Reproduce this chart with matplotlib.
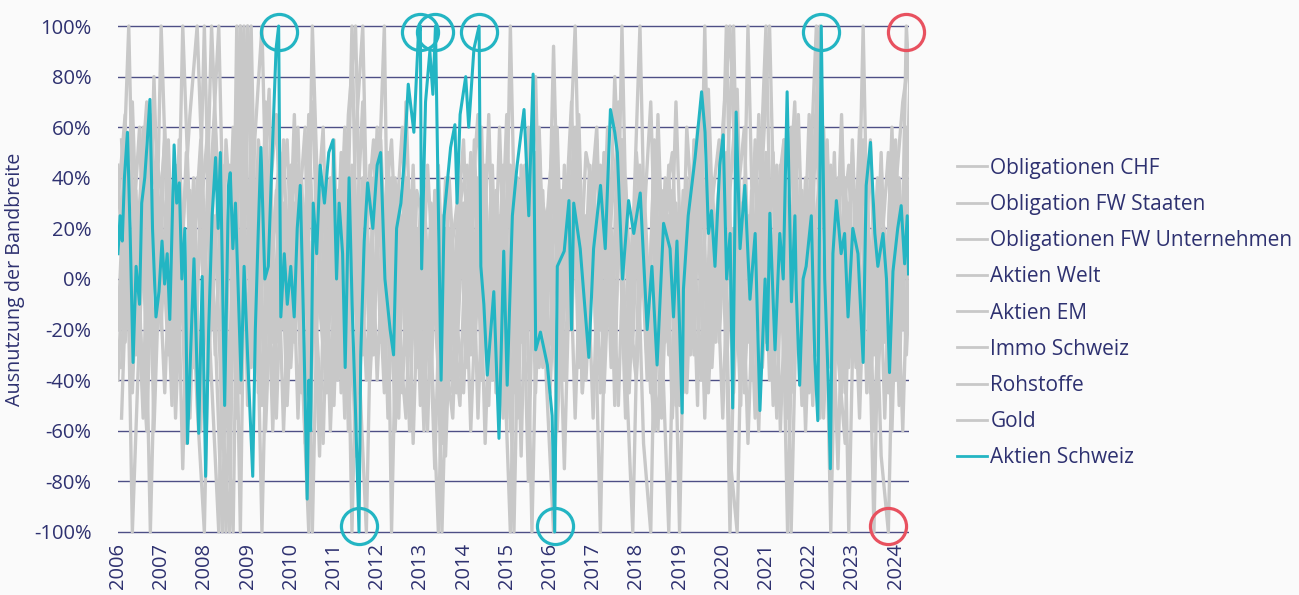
import numpy as np
import matplotlib
matplotlib.use("Agg")
import matplotlib.pyplot as plt
from matplotlib.lines import Line2D

# ---------------- data ----------------
grey_names = ["Obligationen CHF", "Obligation FW Staaten", "Obligationen FW Unternehmen",
              "Aktien Welt", "Aktien EM", "Immo Schweiz", "Rohstoffe", "Gold"]
teal_name = "Aktien Schweiz"

# bimonthly sampling grids (grid A for first four series, grid B offset by one month)
dates_a = 2006.0 + np.arange(111) / 6.0
dates_b = 2006.0 + 1 / 12 + np.arange(111) / 6.0

obligationen_chf = [
    30, 65, -100, -20, 45, -35, 100, 10, -40, 25, -55, 40, -10, 100, 30, -45, -100, 100,
    -30, 55, 100, -20, 35, -60, 20, 60, -45, 15, -70, 40, -25, 50, -60, 10, 70, -40,
    20, 100, -100, 35, -30, 45, -50, 10, -75, 25, -40, 15, 55, -30, 40, -65, 20, -10,
    65, -45, 30, -80, 50, -20, 40, -60, 15, 70, -35, 25, -55, 45, -15, 80, 10, -45,
    30, -65, -100, 50, -20, 35, -50, 60, 15, -40, 75, -10, 45, -70, -100, 40, -30, 65,
    -25, 50, -60, 20, 70, -35, 30, 100, -55, 15, -75, 40, -20, 60, -45, 25, -70, -100,
    35, 70, 90]
obligation_fw_staaten = [
    -40, 25, 70, -15, -60, 35, -20, 55, -35, 100, 20, -50, -100, 45, 100, -25, 60, -100,
    100, -40, 20, 75, -55, 30, -15, 45, -65, 100, 10, -30, 55, -45, 25, -70, 40, -15,
    60, -35, 30, -55, 70, -20, 15, -60, 35, -100, 10, -45, -20, 50, -55, 30, -35, 60,
    -30, 40, -70, 55, -15, 35, -45, 20, -75, 35, 55, -30, 45, -20, 60, -50, 100, -35,
    50, 10, -45, 65, -25, 30, -100, 40, -30, 70, -45, 20, -55, 35, 75, -40, 15, -60,
    50, -20, 40, -100, 30, -50, -15, 65, -40, 45, -30, -65, 55, -25, 35, -60, 10, 50,
    -40, 30, 60]
obligationen_fw_unternehmen = [
    45, -25, 15, 60, -35, 80, -15, 40, -55, 20, 65, 100, 20, -40, -100, 55, 10, 100,
    -50, 35, -100, 30, 65, -20, 45, -55, 25, 70, -10, -45, 35, -20, 65, 100, -30, 45,
    -40, 25, 55, -15, 40, -65, 30, -30, 20, -55, 40, -15, -45, 25, 65, -20, 45, -50,
    20, -100, 45, -20, 80, -35, -25, 60, -40, 30, -10, 50, 35, -45, 25, -30, 55, -15,
    -40, 20, 70, -30, 40, -55, 25, -35, 55, -10, 45, -25, 60, 100, 20, -45, 35, -20,
    40, -50, 25, -35, 55, -20, 65, -30, 45, -100, 30, -45, 20, -55, 40, -30, 50, -45,
    25, -60, 40]
aktien_welt = [
    -20, 50, -45, 30, 70, -60, 25, -30, 45, -75, 35, -15, 100, -20, 40, -100, 25, -45,
    100, 30, -50, 45, -25, 55, -35, 20, 60, -100, 35, -20, -50, 40, -25, 55, 100, -35,
    15, -45, 40, -20, -55, 30, -25, 45, -10, -65, 20, -35, 30, -60, 15, 45, -40, 25,
    -55, 35, -25, 60, -45, 30, 15, -50, 45, -20, 65, -40, 20, -100, 35, -25, 55, -15,
    -35, 40, -20, -60, 30, 50, -20, -45, 35, 50, -30, 20, 55, -100, 30, 60, -40, 25,
    100, -30, 45, -55, 20, 35, -45, 25, 60, -35, 40, -20, 50, -40, 30, -100, 45, -30,
    55, -20, 80]
aktien_em = [
    20, 100, -30, 40, -100, 15, 55, -40, 30, -65, 20, 45, -30, 60, -15, 35, -55, 80,
    -20, 45, -60, 15, 50, -35, 30, -45, 65, -25, 40, -60, 15, -30, 100, -45, 20, 55,
    -25, 40, -60, 20, 35, -15, -45, 30, -20, -70, 15, 40, -30, 55, -40, 20, -15, 45,
    -60, 25, 40, -100, 35, -25, 50, -35, 20, 60, -45, 30, -20, 45, -35, 70, -25, 15,
    100, -30, 50, -55, 25, -40, 35, -20, 60, -45, 30, 55, -35, 20, -50, 100, -20, 45,
    -40, 30, 55, -100, 25, -30, 45, -55, 30, -20, 65, -35, 20, 50, -45, 35, -25, 60,
    -50, 100, 45]
immo_schweiz = [
    -35, 45, 15, -55, 30, -20, 60, -25, 40, -45, 10, 55, -40, 25, -60, -100, 100, -15,
    45, -35, 70, -25, 35, -50, 20, -30, 55, -15, -65, 40, -20, 60, -100, 25, -40, 35,
    45, -55, 15, 60, -30, 20, -60, 25, -35, 40, -20, -50, 35, -25, 60, -40, 25, -55,
    100, -30, 45, -15, 55, -40, -100, 35, -20, 50, -45, 25, 60, -35, 20, -50, 40, -25,
    45, -15, -60, 35, -30, 70, -20, 40, -50, 100, -35, 25, 50, -40, 30, -65, 20, 45,
    100, -20, 55, -45, 30, -60, 25, -40, 50, -30, 60, -100, 35, -25, 55, -45, 20, -60,
    40, -30, 30]
rohstoffe = [
    55, -15, 35, -50, 65, 20, -45, 30, -20, 50, -35, 25, 60, -30, 45, -55, 20, 100,
    -35, 55, 25, -45, 40, -20, 65, -30, -100, 45, -20, 30, -40, 55, 20, -35, -100, 40,
    -15, 50, -35, 25, -60, 35, 20, -40, 45, -30, -55, 25, -35, 40, -20, 65, -45, 15,
    45, -55, 30, -25, 60, -30, 92, -25, 40, -55, 30, -15, 55, -45, 25, 60, -30, -100,
    30, -40, 55, -20, 45, -50, 20, -30, 45, -55, 35, -15, 100, -45, 30, -25, 55, -35,
    25, -55, 40, -20, 65, -30, 40, 100, -25, 50, -45, 30, -35, 55, -20, 40, -55, 35,
    -25, 50, 35]
gold = [
    -55, 30, -25, 60, -15, 45, 25, -50, 55, -30, 40, -60, 35, -20, -100, 45, -40, 30,
    100, -45, 35, -60, 25, 55, -25, 40, -35, 20, 60, -45, 35, -55, 45, -20, 30, -30,
    55, -20, 40, -45, 25, -35, 35, -25, -100, 20, -45, 30, 45, -30, 25, -50, 35, -20,
    -100, 40, -30, 55, -35, 20, 60, -40, 30, 100, -25, 45, -30, 50, -20, 35, -55, 25,
    40, -35, 45, -20, -100, 30, -45, 25, 55, -30, 40, -25, 35, 100, -40, 25, -55, 30,
    -20, 45, -35, 60, -25, 40, -50, 30, 55, -40, 20, 45, -30, 100, -45, 30, -20, 55,
    -35, 60, 50]

grey_values = [obligationen_chf, obligation_fw_staaten, obligationen_fw_unternehmen,
               aktien_welt, aktien_em, immo_schweiz, rohstoffe, gold]
grey_dates = [dates_a, dates_a, dates_a, dates_a, dates_b, dates_b, dates_b, dates_b]

aktien_schweiz_dates = [
    2006.00, 2006.05, 2006.10, 2006.15, 2006.22, 2006.28, 2006.35, 2006.42, 2006.50, 2006.55,
    2006.62, 2006.68, 2006.74, 2006.80, 2006.88, 2006.95, 2007.02, 2007.08, 2007.14, 2007.20,
    2007.30, 2007.36, 2007.42, 2007.48, 2007.55, 2007.61, 2007.68, 2007.76, 2007.87, 2007.95,
    2008.03, 2008.10, 2008.18, 2008.26, 2008.32, 2008.37, 2008.47, 2008.56, 2008.60, 2008.66,
    2008.72, 2008.85, 2008.92, 2009.00, 2009.12, 2009.18, 2009.25, 2009.31, 2009.40, 2009.48,
    2009.55, 2009.66, 2009.72, 2009.77, 2009.85, 2009.92, 2010.00, 2010.08, 2010.15, 2010.22,
    2010.30, 2010.38, 2010.42, 2010.46, 2010.52, 2010.60, 2010.68, 2010.78, 2010.88, 2010.98,
    2011.06, 2011.12, 2011.20, 2011.26, 2011.35, 2011.42, 2011.50, 2011.58, 2011.62, 2011.70,
    2011.78, 2011.90, 2012.00, 2012.08, 2012.18, 2012.30, 2012.38, 2012.45, 2012.55, 2012.62,
    2012.72, 2012.85, 2012.95, 2013.00, 2013.03, 2013.12, 2013.22, 2013.29, 2013.35, 2013.48,
    2013.55, 2013.70, 2013.80, 2013.85, 2013.92, 2014.05, 2014.12, 2014.24, 2014.36, 2014.40,
    2014.47, 2014.55, 2014.70, 2014.82, 2014.93, 2015.01, 2015.13, 2015.24, 2015.40, 2015.51,
    2015.61, 2015.67, 2015.78, 2015.94, 2016.05, 2016.11, 2016.17, 2016.33, 2016.44, 2016.50,
    2016.55, 2016.70, 2016.90, 2017.01, 2017.17, 2017.28, 2017.40, 2017.50, 2017.56, 2017.68,
    2017.82, 2017.94, 2018.09, 2018.25, 2018.36, 2018.48, 2018.63, 2018.78, 2018.86, 2018.94,
    2019.06, 2019.09, 2019.20, 2019.36, 2019.51, 2019.59, 2019.67, 2019.74, 2019.82, 2019.93,
    2020.01, 2020.09, 2020.17, 2020.23, 2020.31, 2020.40, 2020.51, 2020.63, 2020.75, 2020.86,
    2020.98, 2021.03, 2021.09, 2021.21, 2021.32, 2021.40, 2021.49, 2021.59, 2021.67, 2021.70,
    2021.78, 2021.86, 2021.93, 2022.05, 2022.13, 2022.20, 2022.28, 2022.36, 2022.44, 2022.49,
    2022.55, 2022.63, 2022.74, 2022.82, 2022.90, 2023.01, 2023.13, 2023.25, 2023.32, 2023.42,
    2023.52, 2023.59, 2023.71, 2023.79, 2023.86, 2023.94, 2024.05, 2024.13, 2024.21, 2024.27,
    2024.30]
aktien_schweiz = [
    10, 25, 15, 40, 58, 20, -33, 5, -10, 30,
    40, 55, 71, 20, -15, -5, 15, -2, 10, -16,
    53, 30, 38, 0, 20, -65, -30, 8, -61, 1,
    -78, -20, 25, 48, 20, 50, -50, 37, 42, 12,
    30, -40, 5, -30, -78, -20, 20, 52, 0, 5,
    40, 91, 100, -15, 10, -10, 5, -15, 20, 37,
    -20, -87, -40, -60, 30, 10, 45, 30, 50, 55,
    0, 30, 10, -35, 40, -10, -53, -100, -30, 15,
    38, 20, 45, 50, 0, -20, -30, 20, 30, 45,
    77, 58, 95, 100, 4, 70, 90, 73, 100, -40,
    25, 52, 61, 30, 65, 80, 60, 91, 100, 5,
    -10, -38, -5, -63, 11, -42, 25, 45, 67, 25,
    81, -28, -21, -34, -54, -100, 5, 11, 31, -20,
    30, 12, -31, 12, 37, 12, 67, 58, 50, 0,
    31, 18, 34, -20, 5, -34, 22, 12, -15, 15,
    -53, -4, 25, 48, 74, 58, 18, 27, 5, 45,
    57, 0, 18, -51, 66, 12, 37, -8, 18, -52,
    0, -28, 26, -28, 18, 0, 74, -9, 25, -4,
    -42, 0, 5, 25, -31, -56, 100, 0, -40, -75,
    10, 31, 10, 18, -15, 20, 10, -33, 37, 54,
    18, 5, 18, 0, -37, 3, 20, 29, 6, 25,
    2]

year_ticks = list(range(2006, 2025))
pct_ticks = [-100, -80, -60, -40, -20, 0, 20, 40, 60, 80, 100]

# ---------------- style ----------------
NAVY = "#2e3170"
GRID = "#4d4f85"
GREY = "#c8c8c8"
TEAL = "#23b5c3"
RED = "#e8515f"
BG = "#fafafa"
FONT = ["Open Sans", "DejaVu Sans"]

plt.rcParams["font.family"] = FONT

fig = plt.figure(figsize=(12.99, 5.95), dpi=100, facecolor=BG)
ax = fig.add_axes([0.0908, 0.1017, 0.6086, 0.8588], facecolor=BG)

for d, v, name in zip(grey_dates, grey_values, grey_names):
    ax.plot(d, v, color=GREY, lw=2.4, label=name, zorder=2)
ax.plot(aktien_schweiz_dates, aktien_schweiz, color=TEAL, lw=2.2, label=teal_name, zorder=3)

# circles around the extremes of Aktien Schweiz
t_arr = np.asarray(aktien_schweiz_dates)
v_arr = np.asarray(aktien_schweiz, dtype=float)
ext = np.abs(v_arr) >= 100
ax.plot(t_arr[ext], v_arr[ext] - np.sign(v_arr[ext]) * 2.5, ls="none", marker="o",
        ms=26, mfc="none", mec=TEAL, mew=2.3, zorder=5, clip_on=False)

# red circles around the most recent extremes of the other asset classes
last_hi, last_lo = None, None
for d, v in zip(grey_dates, grey_values):
    for ti, vi in zip(d, v):
        if ti > 2024.31:
            continue
        if vi >= 100 and (last_hi is None or ti > last_hi[0]):
            last_hi = (ti, vi)
        if vi <= -100 and (last_lo is None or ti > last_lo[0]):
            last_lo = (ti, vi)
for t, v in (last_hi, last_lo):
    ax.plot([t], [v - np.sign(v) * 2.5], ls="none", marker="o", ms=26, mfc="none",
            mec=RED, mew=2.3, zorder=5, clip_on=False)

ax.set_xlim(2006, 2024.3)
ax.set_ylim(-101, 101)
ax.set_yticks(pct_ticks)
ax.set_yticklabels([f"{p}%" for p in pct_ticks])
ax.set_xticks(year_ticks)
ax.set_xticklabels([str(y) for y in year_ticks], rotation=90, va="top", ha="center")
ax.tick_params(axis="both", length=0, colors=NAVY, labelsize=14.5)
ax.tick_params(axis="y", pad=19)
ax.tick_params(axis="x", pad=6)
ax.yaxis.grid(True, color=GRID, lw=1.0, zorder=1)
ax.set_axisbelow(True)
for s in ax.spines.values():
    s.set_visible(False)

ax.set_ylabel("Ausnutzung der Bandbreite", color=NAVY, fontsize=14.2)
ax.yaxis.set_label_coords(-0.1176, 0.5)

handles = [Line2D([0], [0], color=GREY, lw=2) for _ in grey_names] + \
          [Line2D([0], [0], color=TEAL, lw=2)]
leg = fig.legend(handles, grey_names + [teal_name], loc="upper left",
                 bbox_to_anchor=(0.7303, 0.749), frameon=False, fontsize=15,
                 handlelength=1.45, handletextpad=0.15, labelspacing=0.73,
                 borderaxespad=0)
for txt in leg.get_texts():
    txt.set_color(NAVY)

fig.savefig("out.png", dpi=100, facecolor=BG)
